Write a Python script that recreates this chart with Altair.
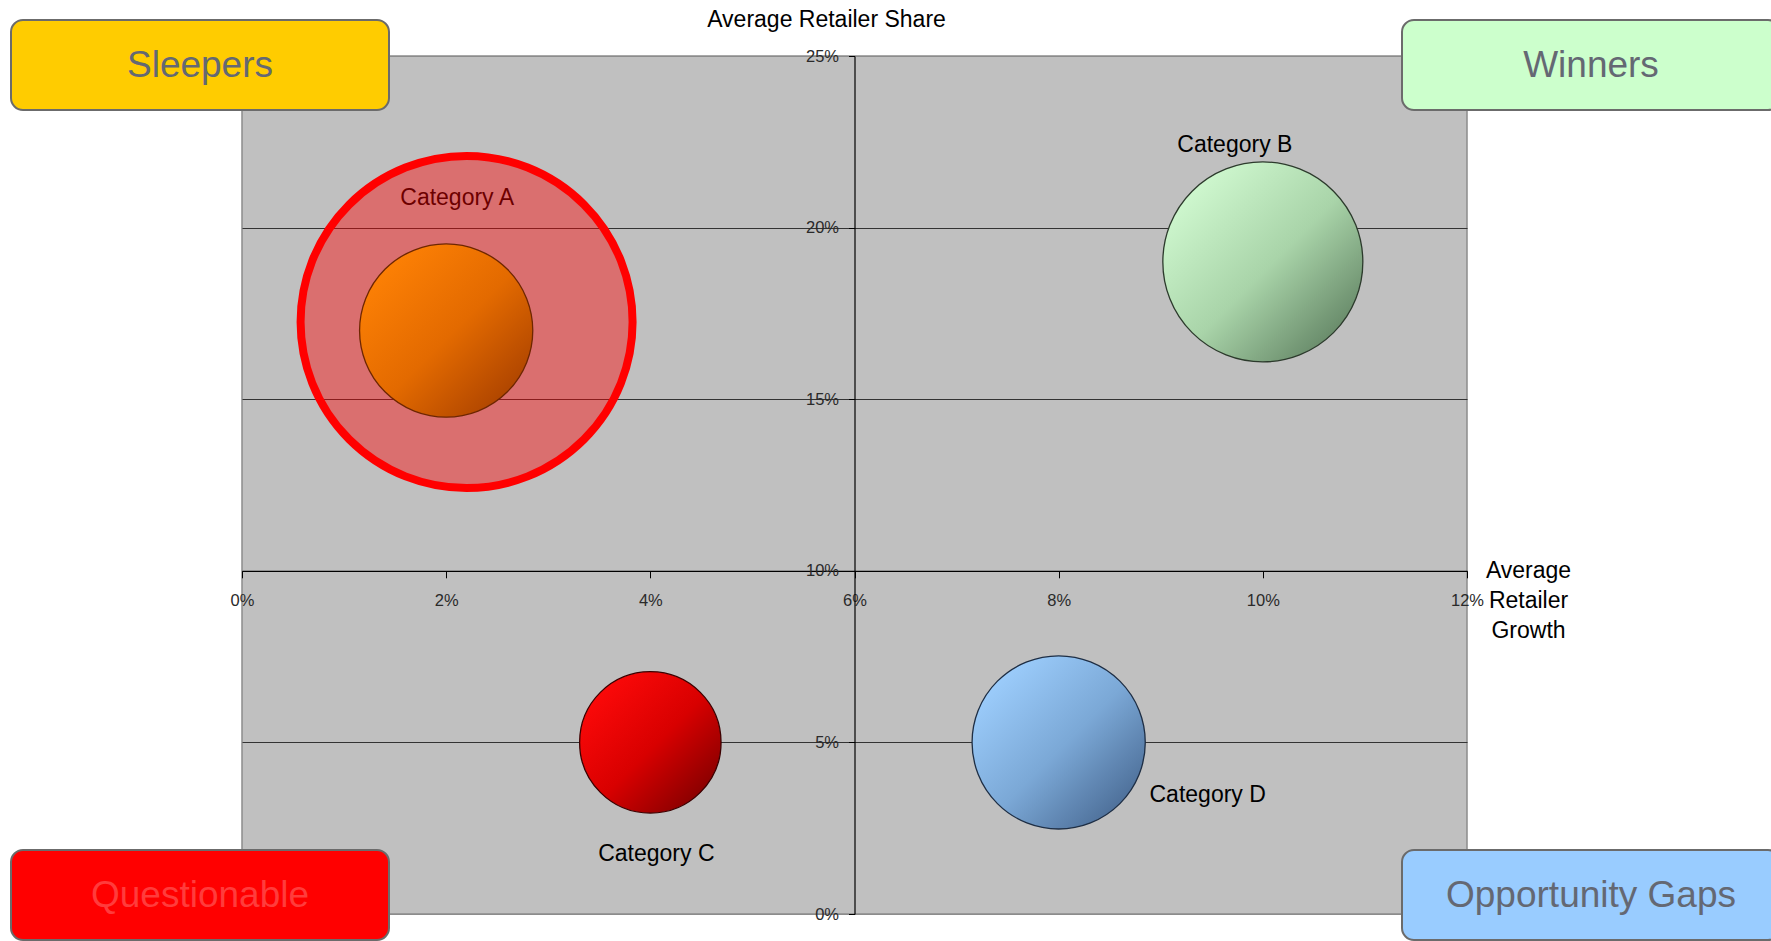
import altair as alt
import pandas as pd

# ---- data -----------------------------------------------------------------
categories = ["Category A", "Category B", "Category C", "Category D"]
growth = [0.02, 0.10, 0.04, 0.08]          # Average Retailer Growth
share = [0.17, 0.19, 0.05, 0.05]           # Average Retailer Share
bubble_size = [15, 20, 10, 15]             # relative bubble size

# highlight ring around Category A
highlight_growth = [0.022]
highlight_share = [0.1725]

quadrants = ["Sleepers", "Winners", "Questionable", "Opportunity Gaps"]

x_ticks = [0, 0.02, 0.04, 0.06, 0.08, 0.10, 0.12]
y_ticks = [0, 0.05, 0.10, 0.15, 0.20, 0.25]

# ---- layout & style -------------------------------------------------------
W, H = 1225, 858
PAD = {"left": 242, "top": 56, "right": 304, "bottom": 27}
FONT = "Liberation Sans, Arial, sans-serif"

X_CROSS = 0.06   # y axis sits at 6% growth
Y_CROSS = 0.10   # x axis sits at 10% share

BUBBLE_STYLE = {
    "Category A": {"stops": [(0, "#ff8205"), (0.5, "#e36a00"), (1, "#a23c00")], "stroke": "#6e2600"},
    "Category B": {"stops": [(0, "#d2fbd2"), (0.5, "#a9d4a9"), (1, "#58785a")], "stroke": "#2c3a2c"},
    "Category C": {"stops": [(0, "#ff0a0a"), (0.5, "#d80000"), (1, "#760000")], "stroke": "#3c0000"},
    "Category D": {"stops": [(0, "#9fd0ff"), (0.5, "#7ba8d6"), (1, "#42618a")], "stroke": "#1e2e44"},
}
LABEL_OFFSET = {
    "Category A": (11, -133),
    "Category B": (-28, -117),
    "Category C": (6, 112),
    "Category D": (149, 53),
}
RING_SIZE = 332 ** 2

BOX_W, BOX_H = 378, 90
QUADRANT_STYLE = {
    "Sleepers":         {"x": -231, "y": -36, "fill": "#ffcc00", "text": "#646873"},
    "Winners":          {"x": W - 65, "y": -36, "fill": "#ccffcc", "text": "#646873"},
    "Questionable":     {"x": -231, "y": H - 64, "fill": "#ff0000", "text": "#ff3c3c"},
    "Opportunity Gaps": {"x": W - 65, "y": H - 64, "fill": "#99ccff", "text": "#646873"},
}

# ---- tables ---------------------------------------------------------------
bubbles = pd.DataFrame({
    "category": categories,
    "growth": growth,
    "share": share,
    "size": bubble_size,
})
ring = pd.DataFrame({"growth": highlight_growth, "share": highlight_share})

# ---- shared encodings -----------------------------------------------------
x_enc = alt.X(
    "growth:Q",
    scale=alt.Scale(domain=[0, 0.12], nice=False, zero=True),
    axis=alt.Axis(
        values=x_ticks, format=".0%", grid=False,
        offset=-(H * Y_CROSS / 0.25),
        domainColor="#000000", domainWidth=1.2, tickColor="#000000", tickSize=7,
        labelPadding=23, labelBaseline="middle", labelFlush=False, labelOverlap=False,
        labelFontSize=16.5, labelColor="#2a2a2a", labelFont=FONT,
        title=["Average", "Retailer", "Growth"], titleX=1286, titleY=0,
        titleAlign="center", titleBaseline="middle", titleLineHeight=30,
        titleFontSize=23, titleFontWeight="normal", titleColor="#000000", titleFont=FONT,
    ),
)
y_enc = alt.Y(
    "share:Q",
    scale=alt.Scale(domain=[0, 0.25], nice=False, zero=True),
    axis=alt.Axis(
        values=y_ticks, format=".0%", grid=True,
        gridColor={"condition": {"test": "datum.value === 0 || datum.value === 0.25",
                                 "value": "#8c8c8c"}, "value": "#333333"},
        gridWidth=1.2,
        offset=-(W * X_CROSS / 0.12),
        domainColor="#000000", domainWidth=1.2, tickColor="#000000", tickSize=6,
        labelPadding=10, labelBaseline="middle", labelOverlap=False,
        labelFontSize=16.5, labelColor="#2a2a2a", labelFont=FONT,
        title="Average Retailer Share", titleAngle=0, titleX=-28.5, titleY=-37,
        titleAlign="center", titleBaseline="middle",
        titleFontSize=23, titleFontWeight="normal", titleColor="#000000", titleFont=FONT,
    ),
)
size_scale = alt.Scale(domain=[0, 20], range=[0, 40000])

layers = []

# category labels (drawn first so the highlight tints the Category A label)
for cat in categories:
    dx, dy = LABEL_OFFSET[cat]
    layers.append(
        alt.Chart(bubbles)
        .transform_filter(alt.datum.category == cat)
        .mark_text(dx=dx, dy=dy, fontSize=23, font=FONT, color="#000000",
                   align="center", baseline="middle")
        .encode(x=x_enc, y=y_enc, text="category:N")
    )

# highlight ring
layers.append(
    alt.Chart(ring)
    .mark_point(shape="circle", filled=True, fill="#ff0000", fillOpacity=0.42,
                stroke="#ff0000", strokeOpacity=1, strokeWidth=8, opacity=1,
                size=RING_SIZE)
    .encode(x=x_enc, y=y_enc)
)

# bubbles with diagonal gradient fills
for cat in categories:
    st = BUBBLE_STYLE[cat]
    grad = alt.Gradient(
        gradient="linear",
        stops=[alt.GradientStop(color=c, offset=o) for o, c in st["stops"]],
        x1=0.1, y1=0.1, x2=0.95, y2=0.95,
    )
    layers.append(
        alt.Chart(bubbles)
        .transform_filter(alt.datum.category == cat)
        .mark_point(shape="circle", filled=True, fill=grad, stroke=st["stroke"],
                    strokeWidth=1.3, opacity=1, fillOpacity=1)
        .encode(x=x_enc, y=y_enc,
                size=alt.Size("size:Q", scale=size_scale, legend=None))
    )

# quadrant name boxes
for name in quadrants:
    st = QUADRANT_STYLE[name]
    qdf = pd.DataFrame({"quadrant": [name]})
    layers.append(
        alt.Chart(qdf)
        .mark_rect(fill=st["fill"], stroke="#6b6b6b", strokeWidth=2, cornerRadius=12)
        .encode(x=alt.value(st["x"]), x2=alt.value(st["x"] + BOX_W),
                y=alt.value(st["y"]), y2=alt.value(st["y"] + BOX_H))
    )
    layers.append(
        alt.Chart(qdf)
        .mark_text(fontSize=37, font=FONT, color=st["text"], align="center",
                   baseline="middle")
        .encode(x=alt.value(st["x"] + BOX_W / 2), y=alt.value(st["y"] + BOX_H / 2 + 1),
                text="quadrant:N")
    )

chart = (
    alt.layer(*layers)
    .properties(width=W, height=H, autosize=alt.AutoSizeParams(type="none"),
                padding=PAD, background="#ffffff")
    .configure_view(fill="#c0c0c0", stroke="#8c8c8c", strokeWidth=1.5)
)

chart.save("out.html", embed_options={"renderer": "svg", "actions": False})
